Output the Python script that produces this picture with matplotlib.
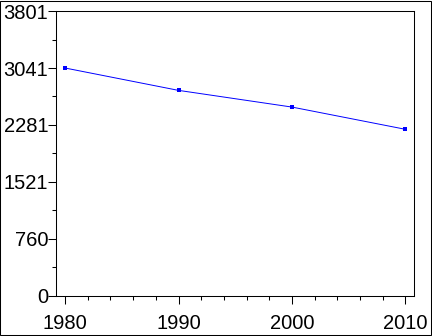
import matplotlib.pyplot as plt
from matplotlib.patches import Rectangle
from matplotlib.ticker import MultipleLocator, FixedLocator

years = [1980, 1990, 2000, 2010]
values = [3040.8, 2742, 2519, 2222]
yticks = [0, 760.2, 1520.4, 2280.6, 3040.8, 3801]
ylabels = ["0", "760", "1521", "2281", "3041", "3801"]
xticks = [1980, 1990, 2000, 2010]

plt.rcParams['font.family'] = ['Liberation Sans', 'DejaVu Sans']

fig = plt.figure(figsize=(4.32, 3.36), dpi=100)
ax = fig.add_axes([0.1296, 0.120, 0.8287, 0.847])

ax.plot(years, values, color='#0000ff', lw=0.7, marker='s', ms=2.2, mew=0)

ax.set_xlim(1979.2, 2010.75)
ax.set_ylim(0, 3801)
ax.set_xticks(xticks, labels=[str(x) for x in xticks])
ax.xaxis.set_minor_locator(MultipleLocator(2))
ax.set_yticks(yticks, labels=ylabels)
ax.yaxis.set_minor_locator(FixedLocator([(a + b) / 2 for a, b in zip(yticks[:-1], yticks[1:])]))

ax.tick_params(which='major', direction='out', length=5.5, width=0.75, labelsize=14.5, color='black')
ax.tick_params(axis='x', which='major', length=6, pad=7)
ax.tick_params(axis='y', which='major', pad=0)
ax.tick_params(which='minor', direction='out', length=3, width=0.75)
for s in ax.spines.values():
    s.set_linewidth(0.75)
    s.set_color('black')

fig.patches.append(Rectangle((0.001, 0.0015), 0.997, 0.996, transform=fig.transFigure,
                             fill=False, lw=0.75, ec='black'))

fig.savefig("out.png", dpi=100)
